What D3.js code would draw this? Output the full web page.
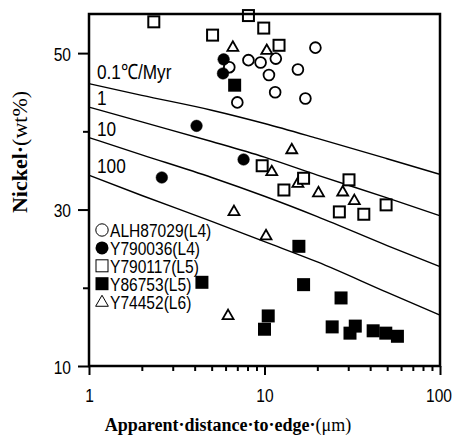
<!DOCTYPE html>
<html>
<head>
<meta charset="utf-8">
<script src="https://cdn.jsdelivr.net/npm/d3@7"></script>
<style>
  body { margin: 0; background: #fff; }
  .narrow { font-family: "Liberation Sans", Arial, sans-serif; }
</style>
</head>
<body>
<div id="chart"></div>
<script>
// cooling-rate curves (Ni wt% vs distance)
var curveX = [1, 2, 5, 10, 20, 50, 100];
var rate01 = [46.1, 44.6, 42.7, 41.0, 39.1, 36.5, 34.5];
var rate1 = [43.1, 41.2, 38.7, 36.7, 34.4, 31.5, 29.2];
var rate10 = [39.2, 37.0, 34.1, 31.7, 29.1, 25.4, 22.7];
var rate100 = [34.4, 31.8, 28.5, 25.9, 23.3, 19.4, 16.5];
var curveLabels = ["0.1\u2103/Myr", "1", "10", "100"];

// meteorites: [distance um, Ni wt%]
var alh87029 = [[19.5,50.7],[8.1,49.1],[9.5,48.8],[11.6,49.3],[15.5,47.9],[10.6,47.2],[11.5,45.0],[17.1,44.2],[7.0,43.7],[6.3,48.2]];
var y790036 = [[5.85,49.2],[5.8,47.4],[4.1,40.7],[7.6,36.4],[2.6,34.1]];
var y790117 = [[2.34,54.0],[5.06,52.3],[8.1,54.8],[9.9,53.2],[12.1,51.0],[9.7,35.6],[16.7,34.0],[12.9,32.5],[30.3,33.8],[26.7,29.7],[36.8,29.4],[49.3,30.6]];
var y86753 = [[6.76,45.9],[4.4,20.7],[15.7,25.3],[16.7,20.4],[10.5,16.4],[10.0,14.7],[27.3,18.7],[24.3,15.0],[30.7,14.2],[32.9,15.1],[41.6,14.5],[49.1,14.2],[57.2,13.8]];
var y74452 = [[6.6,50.7],[10.3,50.3],[14.3,37.6],[11.0,34.8],[15.5,33.3],[20.3,32.1],[27.9,32.2],[32.5,31.1],[10.2,26.6],[6.7,29.7],[6.2,16.4]];
var legendNames = ["ALH87029(L4)", "Y790036(L4)", "Y790117(L5)", "Y86753(L5)", "Y74452(L6)"];

var xTicks = [1,2,3,4,5,6,7,8,9,10,20,30,40,50,60,70,80,90,100];
var xLabels = [1, 10, 100];
var yTicks = [10, 20, 30, 40, 50];
var yLabels = [10, 30, 50];

var width = 453, height = 441;
var margin = {top: 14, right: 13, bottom: 75, left: 89};
var squeeze = 0.82;   // fake a narrow face (Arial Narrow look)

var x = d3.scaleLog().domain([1, 100]).range([margin.left, width - margin.right]);
var y = d3.scaleLinear().domain([10, 55]).range([height - margin.bottom, margin.top]);

var svg = d3.select("#chart").append("svg")
    .attr("width", width)
    .attr("height", height);

function narrowAt(sel, tx, ty) {
  sel.attr("x", 0).attr("y", 0).attr("dy", null)
     .attr("transform", "translate(" + tx + "," + ty + ") scale(" + squeeze + ",1)");
}

// axes
var xAxis = svg.append("g")
    .attr("transform", "translate(0," + y(10) + ")")
    .call(d3.axisBottom(x).tickValues(xTicks).tickSizeOuter(0)
      .tickFormat(function(d) { return xLabels.indexOf(d) >= 0 ? d : ""; }));
xAxis.attr("font-family", null).attr("font-size", null);
xAxis.select(".domain").remove();
xAxis.selectAll(".tick line")
    .attr("stroke-width", 2)
    .attr("y2", function(d) { return xLabels.indexOf(d) >= 0 ? 9 : 5; });
xAxis.selectAll(".tick text")
    .attr("class", "narrow")
    .attr("font-size", 19)
    .attr("fill", "#000")
    .each(function(d) { narrowAt(d3.select(this), d === 100 ? -1.5 : 0, 36); });

var yAxis = svg.append("g")
    .attr("transform", "translate(" + x(1) + ",0)")
    .call(d3.axisLeft(y).tickValues(yTicks).tickSizeOuter(0)
      .tickFormat(function(d) { return yLabels.indexOf(d) >= 0 ? d : ""; }));
yAxis.attr("font-family", null).attr("font-size", null);
yAxis.select(".domain").remove();
yAxis.selectAll(".tick line")
    .attr("stroke-width", 2)
    .attr("x2", function(d) { return yLabels.indexOf(d) >= 0 ? -11 : -6; });
yAxis.selectAll(".tick text")
    .attr("class", "narrow")
    .attr("font-size", 19)
    .attr("fill", "#000")
    .each(function() { narrowAt(d3.select(this), -18, 7); });

// cooling curves
var line = d3.line()
    .x(function(d) { return x(d[0]); })
    .y(function(d) { return y(d[1]); })
    .curve(d3.curveMonotoneX);

var curves = [rate01, rate1, rate10, rate100];
curves.forEach(function(c, i) {
  var pts = curveX.map(function(v, j) { return [v, c[j]]; });
  svg.append("path")
      .attr("d", line(pts))
      .attr("fill", "none")
      .attr("stroke", "#000")
      .attr("stroke-width", 1.4);
  svg.append("text")
      .attr("class", "narrow")
      .attr("font-size", 21)
      .text(curveLabels[i])
      .call(narrowAt, x(1) + 8, y(c[0]) - (i === 0 ? 5 : 2));
});

// symbols
function drawCircles(data, filled) {
  svg.append("g").selectAll("circle")
      .data(data)
    .enter().append("circle")
      .attr("cx", function(d) { return x(d[0]); })
      .attr("cy", function(d) { return y(d[1]); })
      .attr("r", filled ? 5.8 : 5.4)
      .attr("fill", filled ? "#000" : "#fff")
      .attr("stroke", "#000")
      .attr("stroke-width", filled ? 0.5 : 1.8);
}
function drawSquares(data, filled) {
  var s = filled ? 13 : 11;
  svg.append("g").selectAll("rect")
      .data(data)
    .enter().append("rect")
      .attr("x", function(d) { return x(d[0]) - s / 2; })
      .attr("y", function(d) { return y(d[1]) - s / 2; })
      .attr("width", s)
      .attr("height", s)
      .attr("fill", filled ? "#000" : "#fff")
      .attr("stroke", filled ? "none" : "#000")
      .attr("stroke-width", 2);
}
var tri = d3.symbol().type(d3.symbolTriangle).size(52);
function drawTriangles(data) {
  svg.append("g").selectAll("path")
      .data(data)
    .enter().append("path")
      .attr("d", tri)
      .attr("transform", function(d) { return "translate(" + x(d[0]) + "," + y(d[1]) + ")"; })
      .attr("fill", "#fff")
      .attr("stroke", "#000")
      .attr("stroke-width", 1.8);
}

drawCircles(alh87029, false);
drawTriangles(y74452);
drawSquares(y790117, false);
drawCircles(y790036, true);
drawSquares(y86753, true);

// frame
svg.append("rect")
    .attr("x", x(1))
    .attr("y", y(55))
    .attr("width", x(100) - x(1))
    .attr("height", y(10) - y(55))
    .attr("fill", "none")
    .attr("stroke", "#000")
    .attr("stroke-width", 2.5);

// legend
var legend = svg.append("g").attr("transform", "translate(102,230)");
legendNames.forEach(function(name, i) {
  var g = legend.append("g").attr("transform", "translate(0," + (i * 17.9) + ")");
  if (i === 0) g.append("circle").attr("r", 6.2).attr("fill", "#fff").attr("stroke", "#000").attr("stroke-width", 1);
  if (i === 1) g.append("circle").attr("r", 6.5).attr("fill", "#000");
  if (i === 2) g.append("rect").attr("x", -6).attr("y", -6).attr("width", 12).attr("height", 12).attr("fill", "#fff").attr("stroke", "#000").attr("stroke-width", 1);
  if (i === 3) g.append("rect").attr("x", -6.5).attr("y", -6.5).attr("width", 13).attr("height", 13).attr("fill", "#000");
  if (i === 4) g.append("path").attr("d", d3.symbol().type(d3.symbolTriangle).size(70)).attr("transform", "translate(0,1)").attr("fill", "#fff").attr("stroke", "#000").attr("stroke-width", 1);
  g.append("text")
      .attr("class", "narrow")
      .attr("font-size", 19)
      .text(name)
      .call(narrowAt, 8, 7);
});

// axis titles
var xt = svg.append("text")
    .attr("x", 228)
    .attr("y", 431)
    .attr("text-anchor", "middle")
    .attr("font-family", "'Liberation Serif', 'Times New Roman', serif")
    .attr("font-size", 18);
xt.append("tspan").attr("font-weight", "bold").text("Apparent\u00b7distance\u00b7to\u00b7edge\u00b7");
xt.append("tspan").text("(\u03bcm)");

var yt = svg.append("text")
    .attr("transform", "translate(27,152) rotate(-90)")
    .attr("text-anchor", "middle")
    .attr("font-family", "'Liberation Serif', 'Times New Roman', serif")
    .attr("font-size", 22);
yt.append("tspan").attr("font-weight", "bold").text("Nickel\u00b7");
yt.append("tspan").text("(wt%)");
</script>
</body>
</html>
